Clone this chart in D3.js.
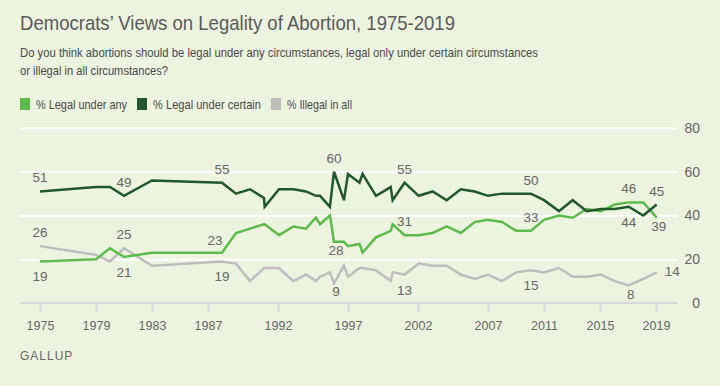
<!DOCTYPE html>
<html lang="en">
<head>
<meta charset="utf-8">
<style>
    body { margin: 0; background: #ecf3df; }
    svg { display: block; font-family: "Liberation Sans", Arial, sans-serif; }
    .tick text { fill: #666; font-size: 12.5px; }
</style>
</head>
<body>
<svg id="chart" width="720" height="386"></svg>
<script src="https://cdn.jsdelivr.net/npm/d3@7/dist/d3.min.js"></script>
<script>

    // survey dates (fractional years, several polls in some years)
    var dates = [1975, 1979, 1980, 1981, 1983, 1988, 1989, 1990, 1991, 1991.05,
        1992.07, 1993.1, 1994, 1994.71, 1995, 1995.71, 1996, 1996.71, 1997, 1997.82,
        1998.04, 1999, 2000.05, 2000.19, 2001.04, 2002.05, 2003.05, 2004.05, 2005.05, 2006.05,
        2007, 2008, 2009, 2010.07, 2011, 2012.07, 2013.05, 2014.05, 2015.07, 2016.05,
        2017.05, 2018.09, 2019.05];

    var legalAny = [19, 20, 25, 21, 23, 23, 32, 34, 36, 36,
        31, 35, 34, 39, 36, 40, 28, 28, 26, 27,
        23, 30, 33, 36, 31, 31, 32, 35, 32, 37,
        38, 37, 33, 33, 38, 40, 39, 43, 42, 45,
        46, 46, 39];

    var legalCertain = [51, 53, 53, 49, 56, 55, 50, 52, 48, 44,
        52, 52, 51, 49, 49, 44, 60, 47, 59, 55,
        59, 49, 53, 47, 55, 49, 51, 47, 52, 51,
        49, 50, 50, 50, 47, 42, 47, 42, 43, 43,
        44, 40, 45];

    var illegalAll = [26, 22, 19, 25, 17, 19, 18, 10, 16, 16,
        16, 10, 13, 10, 12, 14, 9, 17, 12, 16,
        16, 15, 10, 14, 13, 18, 17, 17, 13, 11,
        13, 10, 14, 15, 14, 16, 12, 12, 13, 10,
        8, 11, 14];

    var seriesNames = ["% Legal under any", "% Legal under certain", "% Illegal in all"];
    var seriesColors = ["#5dbb4c", "#21572f", "#bdbdbd"];
    var xTicks = [1975, 1979, 1983, 1987, 1992, 1997, 2002, 2007, 2011, 2015, 2019];
    var yTicks = [0, 20, 40, 60, 80];

    // labelled points: [series index, point index, placement]
    var labels = [
        [1, 0, "above"], [2, 0, "above"], [0, 0, "below"],
        [1, 3, "above"], [2, 3, "above"], [0, 3, "below"],
        [1, 5, "above"], [0, 5, "aboveLeft"], [2, 5, "below"],
        [1, 16, "above"], [0, 16, "belowNear"], [2, 16, "belowNear"],
        [1, 24, "above"], [0, 24, "above"], [2, 24, "below"],
        [1, 33, "above"], [0, 33, "above"], [2, 33, "below"],
        [0, 40, "above"], [1, 40, "below"], [2, 40, "belowNear"],
        [1, 42, "above"], [0, 42, "belowNear"], [2, 42, "right"]
    ];

    var allSeries = [legalAny, legalCertain, illegalAll];

    var svg = d3.select("#chart");

    svg.append("rect")
        .attr("width", 720).attr("height", 386)
        .attr("fill", "#ecf3df");

    var x = d3.scaleLinear().domain([1975, 2019]).range([40, 656]);
    var y = d3.scaleLinear().domain([0, 80]).range([303, 128]);

    // header (the original uses a condensed face, so squeeze to its width)
    function condensed(sel, w) {
        return sel.attr("textLength", w).attr("lengthAdjust", "spacingAndGlyphs");
    }

    condensed(svg.append("text")
        .attr("x", 20).attr("y", 30)
        .attr("fill", "#5a5a5a")
        .attr("font-size", 21)
        .text("Democrats\u2019 Views on Legality of Abortion, 1975-2019"), 435);

    condensed(svg.append("text")
        .attr("x", 20).attr("y", 57)
        .attr("fill", "#4a4a4a")
        .attr("font-size", 13)
        .text("Do you think abortions should be legal under any circumstances, legal only under certain circumstances"), 518);
    condensed(svg.append("text")
        .attr("x", 20).attr("y", 75)
        .attr("fill", "#4a4a4a")
        .attr("font-size", 13)
        .text("or illegal in all circumstances?"), 148);

    // legend
    var legendX = [20, 137, 271];
    var legendW = [91, 108, 65];
    var lg = svg.append("g").attr("class", "legend");
    seriesNames.forEach(function (name, i) {
        lg.append("rect")
            .attr("x", legendX[i]).attr("y", 98)
            .attr("width", 10).attr("height", 12)
            .attr("fill", seriesColors[i]);
        condensed(lg.append("text")
            .attr("x", legendX[i] + 16).attr("y", 109)
            .attr("fill", "#4a4a4a")
            .attr("font-size", 13)
            .text(name), legendW[i]);
    });

    // y axis with white gridlines, labels on the right
    var yAxis = svg.append("g")
        .attr("transform", "translate(20,0)")
        .call(d3.axisRight(y).tickValues(yTicks).tickSize(657).tickPadding(0));
    yAxis.select(".domain").remove();
    yAxis.selectAll(".tick line")
        .attr("stroke", function (d) { return d === 0 ? "none" : "#fff"; })
        .attr("stroke-width", 2);
    yAxis.selectAll(".tick text")
        .attr("x", 680)
        .attr("text-anchor", "end")
        .style("font-size", "14px");

    // x axis
    var xAxis = svg.append("g")
        .attr("transform", "translate(0,303)")
        .call(d3.axisBottom(x).tickValues(xTicks).tickFormat(d3.format("d")).tickSize(9).tickPadding(9));
    xAxis.select(".domain").remove();
    xAxis.insert("line", ":first-child")
        .attr("x1", 20).attr("x2", 677)
        .attr("stroke", "#d9d9d9").attr("stroke-width", 2);
    xAxis.selectAll(".tick line")
        .attr("stroke", "#d9d9d9").attr("stroke-width", 2);

    // lines
    var line = d3.line()
        .x(function (d) { return x(d[0]); })
        .y(function (d) { return y(d[1]); });

    [2, 0, 1].forEach(function (s) {
        svg.append("path")
            .datum(d3.zip(dates, allSeries[s]))
            .attr("fill", "none")
            .attr("stroke", seriesColors[s])
            .attr("stroke-width", 2.5)
            .attr("stroke-linejoin", "miter")
            .attr("d", line);
    });

    // value labels
    var offsets = {
        above: [0, -9], aboveLeft: [-7, -8], below: [0, 20],
        belowNear: [2, 13], right: [8, 4]
    };
    svg.append("g")
        .selectAll("text")
        .data(labels)
        .enter().append("text")
        .attr("x", function (d) { return x(dates[d[1]]) + offsets[d[2]][0]; })
        .attr("y", function (d) { return y(allSeries[d[0]][d[1]]) + offsets[d[2]][1]; })
        .attr("text-anchor", function (d) { return d[2] === "right" ? "start" : "middle"; })
        .attr("fill", "#666")
        .attr("font-size", 13.5)
        .text(function (d) { return allSeries[d[0]][d[1]]; });

    svg.append("text")
        .attr("x", 20).attr("y", 360)
        .attr("fill", "#666")
        .attr("font-size", 12)
        .attr("letter-spacing", 1)
        .text("GALLUP");

</script>
</body>
</html>
